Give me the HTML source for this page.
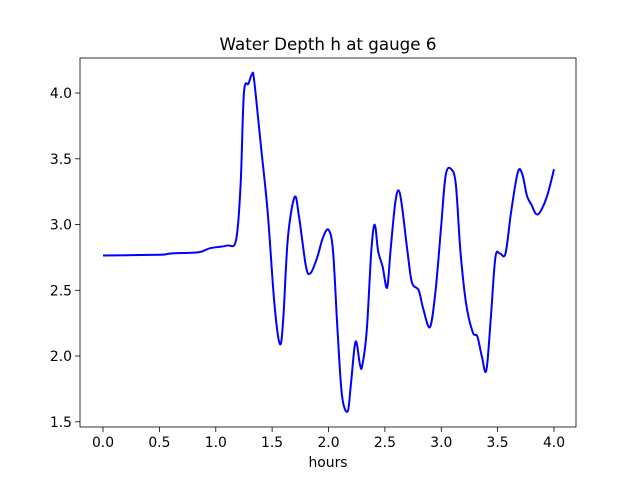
<!DOCTYPE html>
<html><head><meta charset="utf-8"><style>
body{margin:0;background:#fff;}
svg text{font-family:"DejaVu Sans","Liberation Sans",sans-serif;font-size:13.9px;fill:#000;}
</style></head><body>
<svg id="s" width="640" height="480" viewBox="0 0 640 480" xmlns="http://www.w3.org/2000/svg">
<rect width="640" height="480" fill="#fff"/>
<path id="curve" fill="none" stroke="#0000ff" stroke-width="2" stroke-linejoin="round"/>
<rect x="80" y="58" width="496" height="369" fill="none" stroke="#000" stroke-width="0.8"/>
<g stroke="#000" stroke-width="0.8">
<line x1="103" y1="427" x2="103" y2="432"/><line x1="159.4" y1="427" x2="159.4" y2="432"/>
<line x1="215.8" y1="427" x2="215.8" y2="432"/><line x1="272.1" y1="427" x2="272.1" y2="432"/>
<line x1="328.5" y1="427" x2="328.5" y2="432"/><line x1="384.9" y1="427" x2="384.9" y2="432"/>
<line x1="441.3" y1="427" x2="441.3" y2="432"/><line x1="497.6" y1="427" x2="497.6" y2="432"/>
<line x1="554" y1="427" x2="554" y2="432"/>
<line x1="75" y1="421.8" x2="80" y2="421.8"/><line x1="75" y1="356" x2="80" y2="356"/>
<line x1="75" y1="290.3" x2="80" y2="290.3"/><line x1="75" y1="224.5" x2="80" y2="224.5"/>
<line x1="75" y1="158.8" x2="80" y2="158.8"/><line x1="75" y1="93" x2="80" y2="93"/>
</g>
<g text-anchor="middle">
<text x="103" y="447">0.0</text><text x="159.4" y="447">0.5</text><text x="215.8" y="447">1.0</text>
<text x="272.1" y="447">1.5</text><text x="328.5" y="447">2.0</text><text x="384.9" y="447">2.5</text>
<text x="441.3" y="447">3.0</text><text x="497.6" y="447">3.5</text><text x="554" y="447">4.0</text>
<text x="328" y="467">hours</text>
<text x="328" y="50" style="font-size:16.7px">Water Depth h at gauge 6</text>
</g>
<g text-anchor="end">
<text x="72" y="426.8">1.5</text><text x="72" y="361">2.0</text><text x="72" y="295.3">2.5</text>
<text x="72" y="229.5">3.0</text><text x="72" y="163.8">3.5</text><text x="72" y="98">4.0</text>
</g>
</svg>
<script>
var d=[[0,2.765],[0.5,2.77],[0.6,2.78],[0.85,2.79],[0.95,2.82],[1.1,2.84],[1.18,2.88],[1.22,3.3],[1.25,4.0],[1.29,4.07],[1.32,4.14],[1.34,4.1],[1.4,3.6],[1.46,3.1],[1.52,2.4],[1.57,2.09],[1.6,2.3],[1.64,2.9],[1.7,3.21],[1.74,3.05],[1.8,2.68],[1.84,2.63],[1.9,2.75],[1.95,2.9],[2.0,2.96],[2.04,2.8],[2.08,2.2],[2.12,1.7],[2.17,1.58],[2.2,1.8],[2.24,2.11],[2.28,1.93],[2.3,1.93],[2.34,2.2],[2.38,2.8],[2.41,3.0],[2.44,2.8],[2.48,2.68],[2.52,2.52],[2.55,2.8],[2.59,3.15],[2.62,3.26],[2.65,3.15],[2.7,2.8],[2.74,2.56],[2.8,2.5],[2.84,2.36],[2.9,2.22],[2.95,2.5],[3.0,3.0],[3.04,3.38],[3.09,3.42],[3.13,3.3],[3.17,2.8],[3.22,2.4],[3.28,2.18],[3.32,2.15],[3.36,2.0],[3.4,1.89],[3.44,2.3],[3.48,2.75],[3.52,2.78],[3.57,2.78],[3.62,3.1],[3.68,3.4],[3.72,3.38],[3.76,3.22],[3.8,3.15],[3.84,3.08],[3.88,3.1],[3.94,3.22],[4.0,3.42]];
var p=d.map(function(a){return [103+a[0]*112.75,421.8-(a[1]-1.5)*131.5];});
var s="M"+p[0][0].toFixed(1)+","+p[0][1].toFixed(1);
for(var i=0;i<p.length-1;i++){var a=p[i-1]||p[i],b=p[i],c=p[i+1],e=p[i+2]||c;
s+="C"+(b[0]+(c[0]-a[0])/6).toFixed(1)+","+(b[1]+(c[1]-a[1])/6).toFixed(1)+" "+(c[0]-(e[0]-b[0])/6).toFixed(1)+","+(c[1]-(e[1]-b[1])/6).toFixed(1)+" "+c[0].toFixed(1)+","+c[1].toFixed(1);}
document.getElementById("curve").setAttribute("d",s);
</script>
</body></html>
